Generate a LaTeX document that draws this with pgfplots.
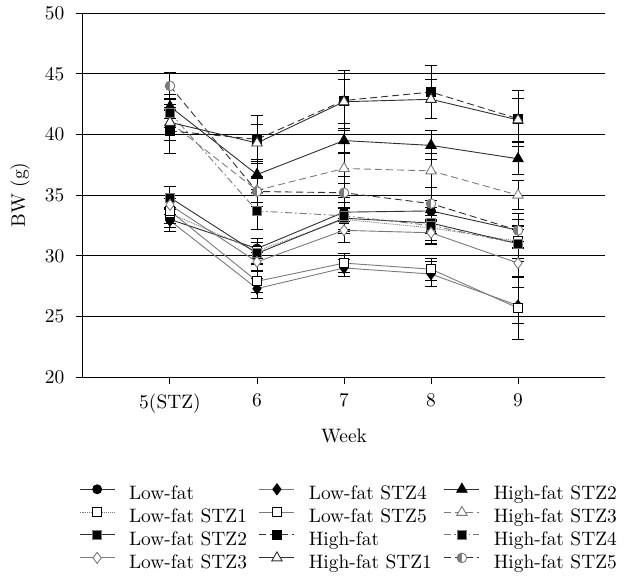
\documentclass[border=0pt]{standalone}
\usepackage{pgfplots}
\pgfplotsset{compat=1.18}
\usepackage{fontspec}
\setmainfont{lmroman10-regular}[Extension=.otf]
\usetikzlibrary{plotmarks}
\definecolor{dk}{HTML}{303030}
\definecolor{gr}{HTML}{7A7A7A}
\tikzset{ldash/.style={dash pattern=on 7bp off 4bp}, ldashdot/.style={dash pattern=on 7bp off 3bp on 1.5bp off 3bp}}
\pgfplotsset{eb/.style={/pgfplots/error bars/y dir=both, /pgfplots/error bars/y explicit,
    /pgfplots/error bars/error bar style={black, line width=1bp, solid},
    /pgfplots/error bars/error mark options={rotate=90, black, line width=1bp, solid, mark size=6bp}}}
\begin{document}
\fontsize{19.5}{23}\selectfont
\begin{tikzpicture}
\begin{axis}[
  name=ax,
  scale only axis, width=522bp, height=364bp,
  xmin=4, xmax=10, ymin=20, ymax=50,
  xtick={5,6,7,8,9}, xticklabels={5(STZ),6,7,8,9},
  ytick={20,25,...,50},
  axis x line*=bottom, axis y line*=left,
  axis line style={black, line width=1bp},
  tick align=outside, major tick length=7bp,
  tick style={black, line width=1bp},
  ymajorgrids, grid style={black, line width=0.9bp},
  /pgf/number format/assume math mode=true,
  yticklabel style={xshift=-5bp},
  xticklabel style={yshift=-3bp},
  xlabel={Week}, ylabel={BW (g)},
  xlabel style={yshift=-3bp},
  ylabel style={yshift=2bp},
  legend columns=3,
  legend cell align=left,
  legend style={draw=none, fill=none, at={(0,-0.291)}, anchor=north west, inner sep=0pt, xshift=-4bp,
    font=\fontsize{19.5}{23}\selectfont,
    nodes={inner xsep=0pt, inner ysep=0pt, text height=15.5bp, text depth=6.8bp},
    /tikz/every odd column/.append style={column sep=14bp},
    /tikz/every even column/.append style={column sep=12bp},
    row sep=0bp},
  legend image code/.code={\draw[mark repeat=2,mark phase=2,#1] plot coordinates {(0bp,6bp) (17.5bp,6bp) (35bp,6bp)};},
]
% Low-fat
\addplot[eb, dk, solid, line width=0.9bp, mark=*, mark size=4.5bp, mark options={solid, fill=black, draw=black}]
  table[x=x,y=y,y error=e,row sep=\\]{x y e\\ 5 33.0 1.0\\ 6 30.6 0.8\\ 7 33.6 0.8\\ 8 33.7 0.9\\ 9 32.1 0.9\\};
\addlegendentry{Low-fat}
% Low-fat STZ4
\addplot[eb, gr, solid, line width=0.9bp, mark=diamond*, mark size=5.5bp, mark options={solid, fill=black, draw=black}]
  table[x=x,y=y,y error=e,row sep=\\]{x y e\\ 5 32.9 0.9\\ 6 27.3 0.8\\ 7 29.0 0.7\\ 8 28.5 1.0\\ 9 25.9 1.5\\};
\addlegendentry{Low-fat STZ4}
% High-fat STZ2
\addplot[eb, dk, solid, line width=0.9bp, mark=triangle*, mark size=6bp, mark options={solid, fill=black, draw=black}]
  table[x=x,y=y,y error=e,row sep=\\]{x y e\\ 5 42.3 1.0\\ 6 36.7 1.2\\ 7 39.5 1.0\\ 8 39.1 1.2\\ 9 38.0 1.3\\};
\addlegendentry{High-fat STZ2}
% Low-fat STZ1
\addplot[eb, gr, densely dotted, line width=0.9bp, mark=square*, mark size=4.5bp, mark options={solid, fill=white, draw=black}]
  table[x=x,y=y,y error=e,row sep=\\]{x y e\\ 5 33.5 1.2\\ 6 30.4 1.0\\ 7 33.0 1.0\\ 8 32.3 1.0\\ 9 31.2 1.2\\};
\addlegendentry{Low-fat STZ1}
% Low-fat STZ5
\addplot[eb, gr, solid, line width=0.9bp, mark=square*, mark size=4.5bp, mark options={solid, fill=white, draw=black}]
  table[x=x,y=y,y error=e,row sep=\\]{x y e\\ 5 33.7 1.0\\ 6 27.9 0.9\\ 7 29.4 0.8\\ 8 28.9 0.9\\ 9 25.7 2.6\\};
\addlegendentry{Low-fat STZ5}
% High-fat STZ3
\addplot[eb, gr, ldash, line width=0.9bp, mark=triangle*, mark size=6bp, mark options={solid, fill=white, draw=gr}]
  table[x=x,y=y,y error=e,row sep=\\]{x y e\\ 5 41.0 1.0\\ 6 35.4 1.0\\ 7 37.2 1.2\\ 8 37.0 1.4\\ 9 35.0 1.2\\};
\addlegendentry{High-fat STZ3}
% Low-fat STZ2
\addplot[eb, dk, solid, line width=0.9bp, mark=square*, mark size=4.5bp, mark options={solid, fill=black, draw=gr}]
  table[x=x,y=y,y error=e,row sep=\\]{x y e\\ 5 34.8 0.9\\ 6 30.2 0.9\\ 7 33.1 0.9\\ 8 32.7 0.9\\ 9 31.0 1.2\\};
\addlegendentry{Low-fat STZ2}
% High-fat
\addplot[eb, dk, ldash, line width=0.9bp, mark=square*, mark size=4.5bp, mark options={solid, fill=black, draw=black}]
  table[x=x,y=y,y error=e,row sep=\\]{x y e\\ 5 40.3 1.9\\ 6 39.6 2.0\\ 7 42.8 2.5\\ 8 43.5 2.2\\ 9 41.3 2.3\\};
\addlegendentry{High-fat}
% High-fat STZ4
\addplot[eb, gr, ldashdot, line width=0.9bp, mark=square*, mark size=4.5bp, mark options={solid, fill=black, draw=gr}]
  table[x=x,y=y,y error=e,row sep=\\]{x y e\\ 5 41.8 1.2\\ 6 33.7 1.5\\ 7 33.3 1.5\\ 8 32.5 1.5\\ 9 31.0 1.5\\};
\addlegendentry{High-fat STZ4}
% Low-fat STZ3
\addplot[eb, gr, solid, line width=0.9bp, mark=diamond*, mark size=5.5bp, mark options={solid, fill=white, draw=gr}]
  table[x=x,y=y,y error=e,row sep=\\]{x y e\\ 5 34.2 0.8\\ 6 29.5 0.8\\ 7 32.1 1.0\\ 8 31.9 1.0\\ 9 29.4 1.2\\};
\addlegendentry{Low-fat STZ3}
% High-fat STZ1
\addplot[eb, dk, solid, line width=0.9bp, mark=triangle*, mark size=6bp, mark options={solid, fill=white, draw=dk}]
  table[x=x,y=y,y error=e,row sep=\\]{x y e\\ 5 41.0 1.5\\ 6 39.3 1.5\\ 7 42.7 1.8\\ 8 42.9 1.6\\ 9 41.2 1.8\\};
\addlegendentry{High-fat STZ1}
% High-fat STZ5
\addplot[eb, dk, ldash, line width=0.9bp, mark=halfcircle*, mark size=4.8bp, mark options={solid, rotate=90, fill=gr, draw=gr}]
  table[x=x,y=y,y error=e,row sep=\\]{x y e\\ 5 44.0 1.1\\ 6 35.3 1.2\\ 7 35.2 1.3\\ 8 34.3 1.3\\ 9 32.1 1.4\\};
\addlegendentry{High-fat STZ5}
\end{axis}
\path ([xshift=-83bp,yshift=11bp]ax.north west) rectangle ([xshift=25bp,yshift=-191bp]ax.south east);
\end{tikzpicture}
\end{document}
